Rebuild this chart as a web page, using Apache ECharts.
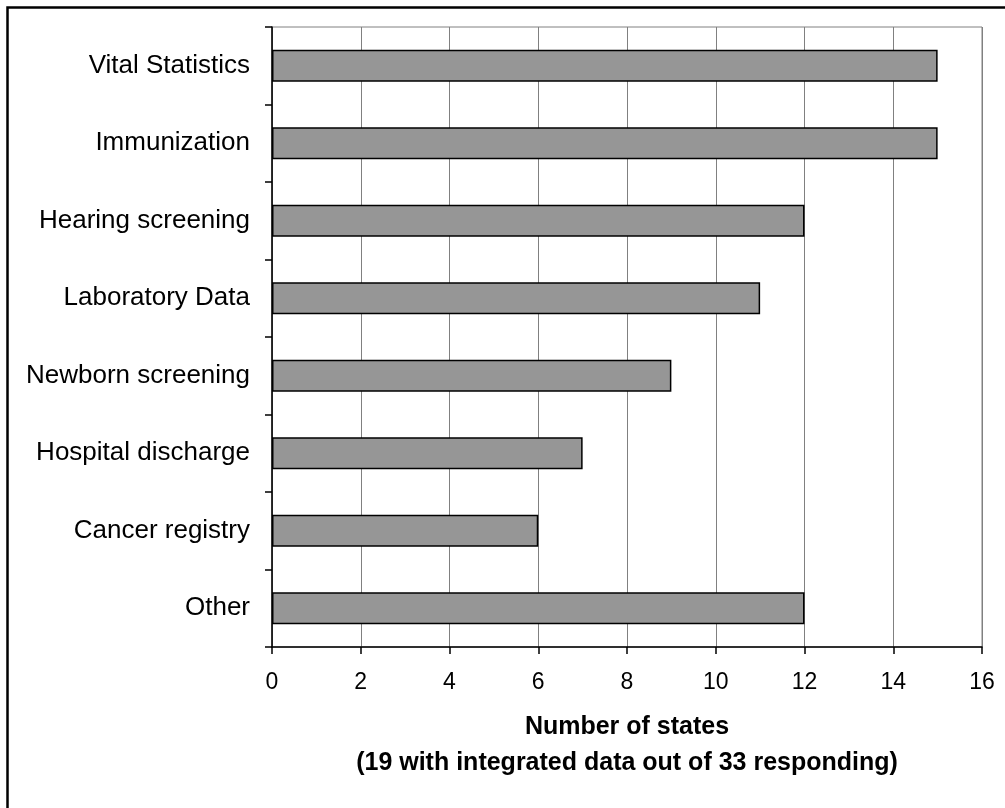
<!DOCTYPE html>
<html>
<head>
<meta charset="utf-8">
<script src="https://cdn.jsdelivr.net/npm/echarts@6/dist/echarts.min.js"></script>
<style>
html,body{margin:0;padding:0;background:#fff;}
#chart{width:1005px;height:808px;}
</style>
</head>
<body>
<div id="chart"></div>
<script>
var categories = ["Vital Statistics","Immunization","Hearing screening","Laboratory Data","Newborn screening","Hospital discharge","Cancer registry","Other"];
var values = [15,15,12,11,9,7,6,12];
var xTitle = "Number of states\n(19 with integrated data out of 33 responding)";

var FONT = '"Liberation Sans", Arial, sans-serif';
var chart = echarts.init(document.getElementById('chart'), null, {renderer:'canvas'});
chart.setOption({
  animation:false,
  backgroundColor:'#ffffff',
  grid:{left:272, right:23, top:27, bottom:161, show:true, borderColor:'#808080', borderWidth:1, containLabel:false},
  xAxis:{
    type:'value', min:0, max:16, interval:2,
    axisLine:{show:true, lineStyle:{color:'#000', width:1.5}},
    axisTick:{show:true, length:7, inside:false, lineStyle:{color:'#000', width:1.5}},
    axisLabel:{color:'#000', fontSize:23, fontFamily:FONT, margin:24},
    splitLine:{show:true, lineStyle:{color:'#808080', width:1}},
    name:xTitle, nameLocation:'middle', nameGap:62,
    nameTextStyle:{color:'#000', fontSize:25, fontWeight:'bold', fontFamily:FONT, lineHeight:36}
  },
  yAxis:{
    type:'category', data:categories, inverse:true,
    axisLine:{show:true, lineStyle:{color:'#000', width:1.5}},
    axisTick:{show:true, length:7, inside:false, alignWithLabel:false, lineStyle:{color:'#000', width:1.5}},
    axisLabel:{color:'#000', fontSize:26, fontFamily:FONT, margin:22},
    splitLine:{show:false}
  },
  series:[{
    type:'bar', data:values, barWidth:32,
    itemStyle:{color:'#969696', borderColor:'#000', borderWidth:1.5}
  }],
  graphic:[{
    type:'rect', silent:true, z:100,
    shape:{x:7.5, y:7.5, width:1200, height:1000},
    style:{fill:null, stroke:'#000', lineWidth:2.5}
  }]
});
</script>
</body>
</html>
